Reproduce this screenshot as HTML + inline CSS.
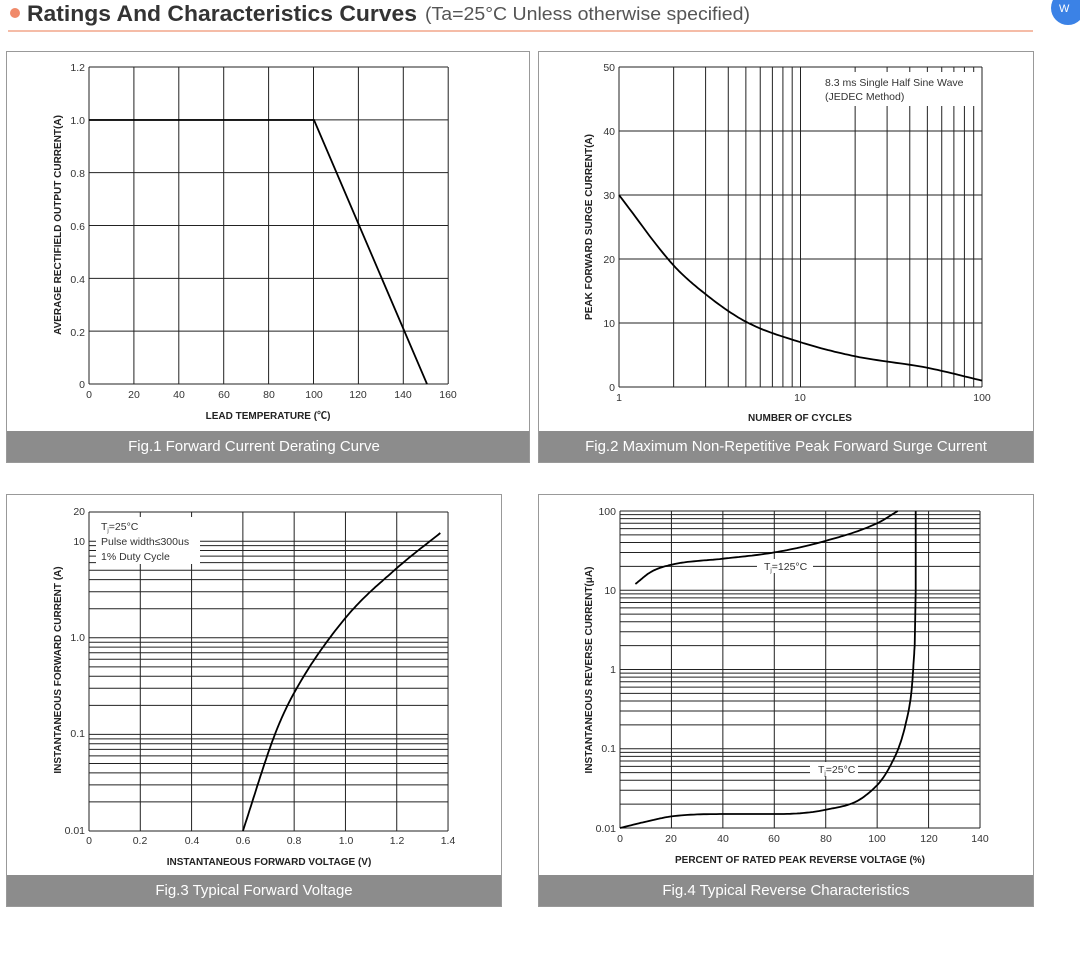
<!DOCTYPE html>
<html><head><meta charset="utf-8">
<style>
body{margin:0;background:#fff;width:1080px;height:968px;overflow:hidden;font-family:"Liberation Sans","Noto Sans CJK SC",sans-serif;}
svg{position:absolute;left:0;top:0}
text{font-family:"Liberation Sans","Noto Sans CJK SC",sans-serif;}
.t{font-size:10.5px;fill:#333}
.ax{font-size:10px;font-weight:bold;fill:#222}
.cap{font-size:15px;fill:#fff}
</style></head><body>
<svg id="s" width="1080" height="968" viewBox="0 0 1080 968">
<circle cx="15" cy="13" r="5" fill="#f08a6a"/>
<text x="27" y="21" font-size="22" font-weight="bold" fill="#333" textLength="390" lengthAdjust="spacingAndGlyphs">Ratings And Characteristics Curves</text>
<text x="425" y="20" font-size="18" fill="#555" textLength="325" lengthAdjust="spacingAndGlyphs">(Ta=25°C Unless otherwise specified)</text>
<line x1="8" y1="31" x2="1033" y2="31" stroke="#f2a58a" stroke-width="1.5"/>
<circle cx="1068" cy="8" r="17" fill="#3b82e6"/>
<text x="1059" y="12" font-size="11" fill="#fff">W</text>
<rect x="6.5" y="51.5" width="523" height="411" fill="#fff" stroke="#999"/>
<rect x="538.5" y="51.5" width="495" height="411" fill="#fff" stroke="#999"/>
<rect x="6.5" y="494.5" width="495" height="412" fill="#fff" stroke="#999"/>
<rect x="538.5" y="494.5" width="495" height="412" fill="#fff" stroke="#999"/>
<rect x="7" y="431" width="522" height="31" fill="#8c8c8c"/>
<rect x="539" y="431" width="494" height="31" fill="#8c8c8c"/>
<rect x="7" y="875" width="494" height="31" fill="#8c8c8c"/>
<rect x="539" y="875" width="494" height="31" fill="#8c8c8c"/>
<text class="cap" x="254" y="451" text-anchor="middle">Fig.1 Forward Current Derating Curve</text>
<text class="cap" x="786" y="451" text-anchor="middle">Fig.2 Maximum Non-Repetitive Peak Forward Surge Current</text>
<text class="cap" x="254" y="895" text-anchor="middle">Fig.3 Typical Forward Voltage</text>
<text class="cap" x="786" y="895" text-anchor="middle">Fig.4 Typical Reverse Characteristics</text>
<g id="g"></g>
<g class="t" text-anchor="end">
<text x="85" y="71">1.2</text><text x="85" y="124">1.0</text><text x="85" y="177">0.8</text><text x="85" y="230">0.6</text><text x="85" y="283">0.4</text><text x="85" y="336">0.2</text><text x="85" y="388">0</text>
</g>
<g class="t" text-anchor="middle">
<text x="89" y="398">0</text><text x="134" y="398">20</text><text x="179" y="398">40</text><text x="224" y="398">60</text><text x="269" y="398">80</text><text x="314" y="398">100</text><text x="358" y="398">120</text><text x="403" y="398">140</text><text x="448" y="398">160</text>
</g>
<text class="ax" x="268" y="419" text-anchor="middle">LEAD TEMPERATURE (℃)</text>
<text class="ax" transform="translate(61,225) rotate(-90)" text-anchor="middle">AVERAGE RECTIFIELD OUTPUT CURRENT(A)</text>
<g class="t" text-anchor="end">
<text x="615" y="71">50</text><text x="615" y="135">40</text><text x="615" y="199">30</text><text x="615" y="263">20</text><text x="615" y="327">10</text><text x="615" y="391">0</text>
</g>
<g class="t" text-anchor="middle"><text x="619" y="401">1</text><text x="800" y="401">10</text><text x="982" y="401">100</text></g>
<text class="ax" x="800" y="421" text-anchor="middle">NUMBER OF CYCLES</text>
<text class="ax" transform="translate(592,227) rotate(-90)" text-anchor="middle">PEAK FORWARD SURGE CURRENT(A)</text>
<rect x="821" y="72" width="155" height="34" fill="#fff"/>
<text class="t" x="825" y="86">8.3 ms Single Half Sine Wave</text>
<text class="t" x="825" y="100">(JEDEC Method)</text>
<g class="t" text-anchor="end">
<text x="85" y="515">20</text><text x="85" y="545">10</text><text x="85" y="641">1.0</text><text x="85" y="737">0.1</text><text x="85" y="834">0.01</text>
</g>
<g class="t" text-anchor="middle">
<text x="89" y="844">0</text><text x="140" y="844">0.2</text><text x="192" y="844">0.4</text><text x="243" y="844">0.6</text><text x="294" y="844">0.8</text><text x="346" y="844">1.0</text><text x="397" y="844">1.2</text><text x="448" y="844">1.4</text>
</g>
<text class="ax" x="269" y="865" text-anchor="middle">INSTANTANEOUS FORWARD VOLTAGE (V)</text>
<text class="ax" transform="translate(61,670) rotate(-90)" text-anchor="middle">INSTANTANEOUS FORWARD CURRENT (A)</text>
<rect x="96" y="517" width="104" height="47" fill="#fff"/>
<text class="t" x="101" y="530">T<tspan font-size="6" dy="2">j</tspan><tspan dy="-2">=25°C</tspan></text>
<text class="t" x="101" y="545">Pulse width≤300us</text>
<text class="t" x="101" y="560">1% Duty Cycle</text>
<g class="t" text-anchor="end">
<text x="616" y="515">100</text><text x="616" y="594">10</text><text x="616" y="673">1</text><text x="616" y="752">0.1</text><text x="616" y="832">0.01</text>
</g>
<g class="t" text-anchor="middle">
<text x="620" y="842">0</text><text x="671" y="842">20</text><text x="723" y="842">40</text><text x="774" y="842">60</text><text x="826" y="842">80</text><text x="877" y="842">100</text><text x="929" y="842">120</text><text x="980" y="842">140</text>
</g>
<text class="ax" x="800" y="863" text-anchor="middle">PERCENT OF RATED PEAK REVERSE VOLTAGE (%)</text>
<text class="ax" transform="translate(592,670) rotate(-90)" text-anchor="middle">INSTANTANEOUS REVERSE CURRENT(μA)</text>
<rect x="757" y="559" width="56" height="14" fill="#fff"/>
<text class="t" x="764" y="570">T<tspan font-size="6" dy="2">j</tspan><tspan dy="-2">=125°C</tspan></text>
<rect x="810" y="762" width="48" height="14" fill="#fff"/>
<text class="t" x="818" y="773">T<tspan font-size="6" dy="2">j</tspan><tspan dy="-2">=25°C</tspan></text>
</svg>
<script>
var g=document.getElementById('g'),h='';
function L(a,b,c,d,w){h+='<line x1="'+a+'" y1="'+b+'" x2="'+c+'" y2="'+d+'" stroke="#222" stroke-width="'+(w||1)+'"/>';}
function P(pts,w){h+='<path d="M'+pts.map(function(p){return p[0].toFixed(1)+','+p[1].toFixed(1)}).join('L')+'" fill="none" stroke="#000" stroke-width="'+(w||1.8)+'"/>';}
function mono(xs,ys,n,fx,fy){var k=xs.length,d=[],m=[],i;for(i=0;i<k-1;i++)d.push((ys[i+1]-ys[i])/(xs[i+1]-xs[i]));m[0]=d[0];m[k-1]=d[k-2];for(i=1;i<k-1;i++){m[i]=(d[i-1]*d[i]<=0)?0:(d[i-1]+d[i])/2;}
for(i=0;i<k-1;i++){if(d[i]==0){m[i]=m[i+1]=0;continue;}var a=m[i]/d[i],b=m[i+1]/d[i],s=a*a+b*b;if(s>9){var t=3/Math.sqrt(s);m[i]=t*a*d[i];m[i+1]=t*b*d[i];}}
var o=[];for(i=0;i<k-1;i++){var hh=xs[i+1]-xs[i];for(var j=0;j<n;j++){var t=j/n,t2=t*t,t3=t2*t;var y=(2*t3-3*t2+1)*ys[i]+(t3-2*t2+t)*hh*m[i]+(-2*t3+3*t2)*ys[i+1]+(t3-t2)*hh*m[i+1];o.push([fx(xs[i]+t*hh),fy(y)]);}}o.push([fx(xs[k-1]),fy(ys[k-1])]);return o;}
var i;
for(i=0;i<=8;i++){var x=89+i*44.9;L(x,67,x,384);}
for(i=0;i<=6;i++){var y=67+i*52.83;L(89,y,448,y);}
P([[89,120],[314,120],[427,384]]);
function x2(n){return 619+Math.log10(n)*181.5;}
for(var d=1;d<=10;d*=10)for(var m=1;m<10;m++)L(x2(d*m),67,x2(d*m),387);
L(982,67,982,387);
for(i=0;i<=5;i++){L(619,67+i*64,982,67+i*64);}
var N=[0,0.301,0.477,0.699,1,1.301,1.699,2],V=[30,19,14.5,10.2,7,4.8,3,1];
P(mono(N,V,16,function(v){return 619+v*181.5},function(v){return 387-v*6.4}));
function y3(v){return 831-(Math.log10(v)+2)*96.6;}
for(i=0;i<=7;i++){var x=89+i*51.29;L(x,512,x,831);}
for(var d=0.01;d<5;d*=10)for(var m=1;m<10;m++){L(89,y3(d*m),448,y3(d*m));}
L(89,y3(10),448,y3(10));L(89,512,448,512);
var VV=[0.6,0.725,0.8,1.0,1.2,1.37],II=[-2,-1,-0.57,0.205,0.72,1.085];
P(mono(VV,II,24,function(v){return 89+v/1.4*359},function(v){return 831-(v+2)*96.6}));
function y4(v){return 828-(Math.log10(v)+2)*79.25;}
function x4(p){return 620+p/140*360;}
for(i=0;i<=7;i++){var x=620+i*51.43;L(x,511,x,828);}
for(var d=0.01;d<50;d*=10)for(var m=1;m<10;m++){L(620,y4(d*m),980,y4(d*m));}
L(620,511,980,511);
var A=[6,12,20,40,60,80,100,108],B=[12,17,21,25,30,42,70,100].map(Math.log10);
P(mono(A,B,16,x4,function(v){return 828-(v+2)*79.25}));
var C=[0,10,20,40,60,80,95,105,111,113.5,114.6],D=[0.01,0.012,0.014,0.015,0.015,0.017,0.025,0.06,0.2,0.6,2].map(Math.log10);
var p1=mono(C,D,16,x4,function(v){return 828-(v+2)*79.25});
p1.push([x4(115),y4(10)],[x4(115),y4(100)]);
P(p1);
g.innerHTML=h;
</script>
</body></html>
